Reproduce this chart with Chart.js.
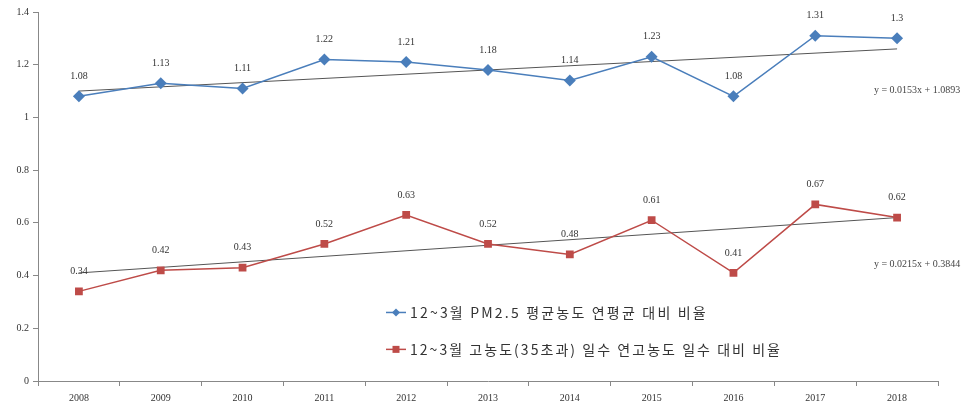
<!DOCTYPE html>
<html>
<head>
    <title>PM2.5 ratio chart</title>
    <script src="https://cdn.jsdelivr.net/npm/chart.js"></script>
    <style>
        body { margin: 0; background: #fff; }
    </style>
</head>
<body>

<canvas id="ratioChart" width="978" height="409"></canvas>

<script>
    // values
    const years = ['2008', '2009', '2010', '2011', '2012', '2013', '2014', '2015', '2016', '2017', '2018'];
    const pmRatio = [1.08, 1.13, 1.11, 1.22, 1.21, 1.18, 1.14, 1.23, 1.08, 1.31, 1.3];
    const highDaysRatio = [0.34, 0.42, 0.43, 0.52, 0.63, 0.52, 0.48, 0.61, 0.41, 0.67, 0.62];
    // trendline end points (first and last year only)
    const pmTrend = [1.10, null, null, null, null, null, null, null, null, null, 1.26];
    const highTrend = [0.41, null, null, null, null, null, null, null, null, null, 0.62];
    const pmEquation = 'y = 0.0153x + 1.0893';
    const highEquation = 'y = 0.0215x + 0.3844';
    const pmLabel = '12~3월 PM2.5 평균농도 연평균 대비 비율';
    const highLabel = '12~3월 고농도(35초과) 일수 연고농도 일수 대비 비율';

    const blue = '#4a7ebb';
    const red = '#be4b48';
    const serif = '"Liberation Serif", "DejaVu Serif", serif';

    // value labels, equations and legend drawn on top
    const extrasPlugin = {
        id: 'extras',
        afterDatasetsDraw(chart) {
            const ctx = chart.ctx;
            const xs = chart.scales.x;
            const ys = chart.scales.y;
            ctx.save();
            ctx.fillStyle = '#333';
            ctx.font = '10px ' + serif;
            ctx.textAlign = 'center';
            ctx.textBaseline = 'bottom';
            [0, 1].forEach(i => {
                chart.getDatasetMeta(i).data.forEach((pt, j) => {
                    const v = chart.data.datasets[i].data[j];
                    ctx.fillText(String(v), pt.x, pt.y - 15);
                });
            });

            // trend equations, right of the last point
            ctx.font = '10px ' + serif;
            ctx.fillStyle = '#444';
            const ex = xs.getPixelForValue(10) + 20;
            ctx.fillText(pmEquation, ex, ys.getPixelForValue(1.1) + 4);
            ctx.fillText(highEquation, ex, ys.getPixelForValue(0.44) + 4);

            // legend inside the plot
            const lx = chart.chartArea.left + 348;
            const rows = [
                { y: ys.getPixelForValue(0.26), color: blue, shape: 'diamond', text: pmLabel, width: 298 },
                { y: ys.getPixelForValue(0.12), color: red, shape: 'square', text: highLabel, width: 372 }
            ];
            rows.forEach(r => {
                ctx.strokeStyle = r.color;
                ctx.lineWidth = 1.5;
                ctx.beginPath();
                ctx.moveTo(lx, r.y);
                ctx.lineTo(lx + 20, r.y);
                ctx.stroke();
                ctx.fillStyle = r.color;
                ctx.beginPath();
                if (r.shape === 'diamond') {
                    ctx.moveTo(lx + 10, r.y - 4);
                    ctx.lineTo(lx + 14, r.y);
                    ctx.lineTo(lx + 10, r.y + 4);
                    ctx.lineTo(lx + 6, r.y);
                } else {
                    ctx.rect(lx + 6.5, r.y - 3.5, 7, 7);
                }
                ctx.fill();
                ctx.fillStyle = '#333';
                ctx.font = '14px "Noto Sans CJK KR", sans-serif';
                ctx.textAlign = 'left';
                ctx.textBaseline = 'middle';
                // stretch the text a little to the reference width
                ctx.letterSpacing = '0px';
                const natural = ctx.measureText(r.text).width;
                const gap = Math.max(0, (r.width - natural) / r.text.length);
                ctx.letterSpacing = gap.toFixed(2) + 'px';
                ctx.fillText(r.text, lx + 24, r.y);
                ctx.letterSpacing = '0px';
            });
            ctx.restore();
        }
    };

    const ctx = document.getElementById('ratioChart').getContext('2d');
    const ratioChart = new Chart(ctx, {
        type: 'line',
        data: {
            labels: years,
            datasets: [
            {
                label: pmLabel,
                data: pmRatio,
                borderColor: blue,
                backgroundColor: blue,
                borderWidth: 1.5,
                pointStyle: 'rectRot',
                pointRadius: 6,
                pointBorderWidth: 0,
                tension: 0
            },
            {
                label: highLabel,
                data: highDaysRatio,
                borderColor: red,
                backgroundColor: red,
                borderWidth: 1.5,
                pointStyle: 'rect',
                pointRadius: 5.5,
                pointBorderWidth: 0,
                tension: 0
            },
            {
                data: pmTrend,
                borderColor: '#555',
                borderWidth: 1,
                pointRadius: 0,
                spanGaps: true
            },
            {
                data: highTrend,
                borderColor: '#555',
                borderWidth: 1,
                pointRadius: 0,
                spanGaps: true
            }
            ]
        },
        options: {
            responsive: false,
            animation: false,
            layout: {
                padding: { top: 12, right: 40, left: 0, bottom: 0 }
            },
            plugins: {
                legend: { display: false },
                tooltip: { enabled: false }
            },
            scales: {
                x: {
                    offset: true,
                    border: { color: '#888', width: 1 },
                    grid: {
                        offset: true,
                        drawOnChartArea: false,
                        tickLength: 5,
                        color: '#888'
                    },
                    ticks: {
                        color: '#333',
                        font: { family: serif, size: 10 },
                        maxRotation: 0,
                        padding: 6
                    },
                    afterFit(scale) { scale.height = 28; }
                },
                y: {
                    min: 0,
                    max: 1.4,
                    border: { color: '#888', width: 1 },
                    grid: {
                        drawOnChartArea: false,
                        tickLength: 5,
                        color: '#888'
                    },
                    ticks: {
                        stepSize: 0.2,
                        color: '#333',
                        font: { family: serif, size: 10 },
                        padding: 4,
                        callback: v => String(Math.round(v * 10) / 10)
                    },
                    afterFit(scale) { scale.width = 38; }
                }
            }
        },
        plugins: [extrasPlugin]
    });
</script>

</body>
</html>
